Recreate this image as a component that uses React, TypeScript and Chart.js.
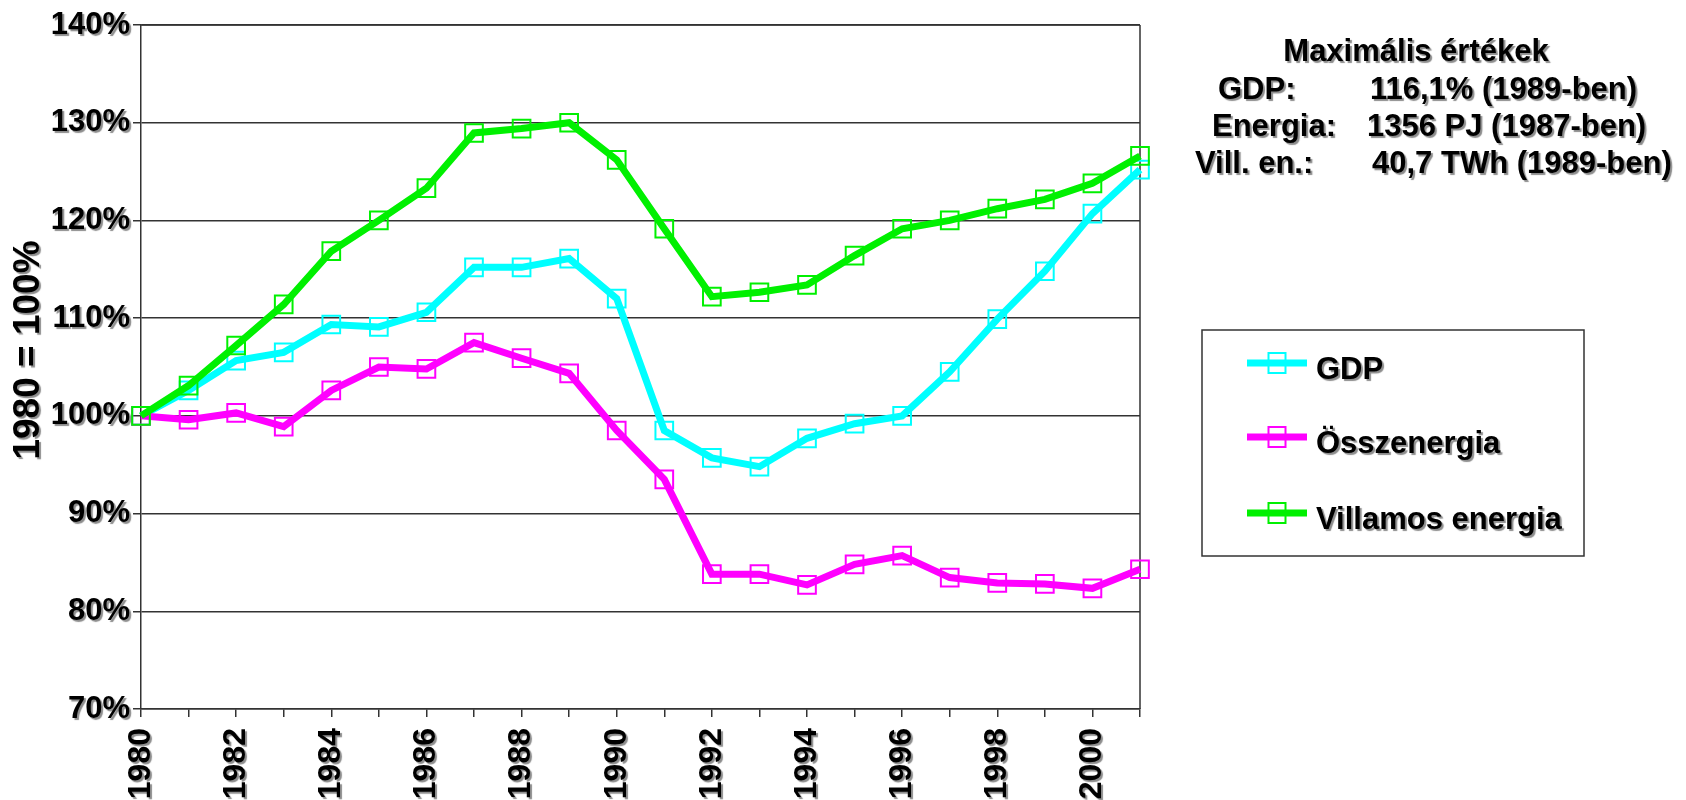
import React, { useEffect, useRef } from 'react';
import { Chart, registerables } from 'chart.js';

Chart.register(...registerables);

// ---------- data ----------
const years = ['1980', '1981', '1982', '1983', '1984', '1985', '1986', '1987', '1988', '1989', '1990',
  '1991', '1992', '1993', '1994', '1995', '1996', '1997', '1998', '1999', '2000', '2001'];

const gdp = [100, 102.6, 105.65, 106.5, 109.35, 109.1, 110.6, 115.2, 115.2, 116.1, 112.0,
  98.5, 95.7, 94.8, 97.7, 99.2, 100.0, 104.5, 109.9, 114.8, 120.7, 125.2];

const osszenergia = [100, 99.6, 100.3, 98.9, 102.6, 105.0, 104.8, 107.5, 105.9, 104.35, 98.5,
  93.5, 83.8, 83.8, 82.7, 84.8, 85.7, 83.45, 82.9, 82.8, 82.35, 84.3];

const villamos = [100, 103.1, 107.2, 111.4, 116.85, 120.0, 123.3, 128.95, 129.4, 130.0, 126.2,
  119.15, 112.2, 112.65, 113.4, 116.4, 119.15, 120.0, 121.2, 122.15, 123.8, 126.6];

const seriesNames = ['GDP', 'Összenergia', 'Villamos energia'];
const seriesColors = ['#00ffff', '#ff00ff', '#00f000'];

const yTitle = '1980 = 100%';
const maxTitle = 'Maximális értékek';
const maxLabels = ['GDP:', 'Energia:', 'Vill. en.:'];
const maxValues = ['116,1% (1989-ben)', '1356 PJ (1987-ben)', '40,7 TWh (1989-ben)'];

// ---------- styling ----------
const FAMILY = '"Liberation Sans", Arial, Helvetica, sans-serif';
const GRID = '#333333';

function withShadow(ctx: CanvasRenderingContext2D, fn: () => void) {
  ctx.save();
  ctx.shadowColor = 'rgba(0,0,0,0.45)';
  ctx.shadowOffsetX = 2;
  ctx.shadowOffsetY = 2;
  ctx.shadowBlur = 1;
  fn();
  ctx.restore();
}

const decorPlugin = {
  id: 'decor',
  beforeDraw(chart: any) {
    Object.values(chart.scales).forEach((scale: any) => {
      if (scale.__shadowPatched) return;
      const orig = scale.drawLabels;
      scale.drawLabels = function (area: any) {
        const c = this.ctx as CanvasRenderingContext2D;
        withShadow(c, () => orig.call(this, area));
      };
      scale.__shadowPatched = true;
    });
  },
  beforeDatasetsDraw(chart: any) {
    const { ctx, chartArea } = chart;
    ctx.save();
    ctx.strokeStyle = GRID;
    ctx.lineWidth = 1.5;
    ctx.beginPath();
    ctx.moveTo(chartArea.right, chartArea.top);
    ctx.lineTo(chartArea.right, chartArea.bottom);
    ctx.moveTo(chartArea.left, chartArea.top);
    ctx.lineTo(chartArea.right, chartArea.top);
    ctx.stroke();
    ctx.restore();
  },
  afterDraw(chart: any) {
    const ctx: CanvasRenderingContext2D = chart.ctx;

    // y-axis title
    withShadow(ctx, () => {
      ctx.translate(29, 350);
      ctx.rotate(-Math.PI / 2);
      ctx.font = `bold 37px ${FAMILY}`;
      ctx.fillStyle = '#000';
      ctx.textAlign = 'center';
      ctx.textBaseline = 'middle';
      ctx.fillText(yTitle, 0, 0);
    });

    // maximum values block
    withShadow(ctx, () => {
      ctx.font = `bold 31px ${FAMILY}`;
      ctx.fillStyle = '#000';
      ctx.textBaseline = 'alphabetic';
      ctx.textAlign = 'center';
      ctx.fillText(maxTitle, 1416, 61);
      ctx.textAlign = 'left';
      const lx = [1218, 1212, 1195];
      const vx = [1370, 1367, 1372];
      const by = [99, 136, 173];
      maxLabels.forEach((l, i) => {
        ctx.fillText(l, lx[i], by[i]);
        ctx.fillText(maxValues[i], vx[i], by[i]);
      });
    });

    // legend
    ctx.save();
    ctx.strokeStyle = GRID;
    ctx.lineWidth = 1.5;
    ctx.strokeRect(1202, 330, 382, 226);
    ctx.restore();
    const ey = [363, 437, 513];
    chart.data.datasets.forEach((ds: any, i: number) => {
      const y = ey[i];
      ctx.save();
      ctx.strokeStyle = ds.borderColor;
      ctx.lineWidth = 7;
      ctx.beginPath();
      ctx.moveTo(1247, y);
      ctx.lineTo(1307, y);
      ctx.stroke();
      ctx.lineWidth = 2;
      ctx.strokeRect(1277 - 8.5, y - 10, 17, 20);
      ctx.restore();
      withShadow(ctx, () => {
        ctx.font = `bold 31px ${FAMILY}`;
        ctx.fillStyle = '#000';
        ctx.textAlign = 'left';
        ctx.textBaseline = 'alphabetic';
        ctx.fillText(ds.label, 1316, y + 16);
      });
    });
  },
};

export default function App() {
  const ref = useRef<HTMLCanvasElement | null>(null);

  useEffect(() => {
    if (!ref.current) return;
    const yTickFont = { family: FAMILY, size: 31, weight: 'bold' as const };
    const xTickFont = { family: FAMILY, size: 32, weight: 'bold' as const };
    const mk = (label: string, data: number[], color: string, order: number) => ({
      label,
      data,
      borderColor: color,
      backgroundColor: color,
      borderWidth: 7,
      tension: 0,
      fill: false,
      pointStyle: 'rect',
      pointRadius: 12.5,
      pointHoverRadius: 12.5,
      pointBorderWidth: 2,
      pointBorderColor: color,
      pointBackgroundColor: 'rgba(0,0,0,0)',
      order,
      clip: false as any,
    });
    const chart = new Chart(ref.current, {
      type: 'line',
      data: {
        labels: years,
        datasets: [
          mk(seriesNames[0], gdp, seriesColors[0], 3),
          mk(seriesNames[1], osszenergia, seriesColors[1], 2),
          mk(seriesNames[2], villamos, seriesColors[2], 1),
        ],
      },
      options: {
        responsive: false,
        animation: false,
        events: [],
        layout: { padding: { left: 0, top: 25, right: 546, bottom: 0 } },
        plugins: { legend: { display: false }, tooltip: { enabled: false } },
        scales: {
          x: {
            type: 'category',
            offset: false,
            grid: { drawOnChartArea: false, drawTicks: true, tickLength: 8, color: GRID, lineWidth: 1.5 },
            border: { color: GRID, width: 1.5 },
            ticks: {
              autoSkip: false,
              maxRotation: 90,
              minRotation: 90,
              padding: 11,
              color: '#000',
              font: xTickFont,
              callback: (_v: any, i: number) => (i % 2 === 0 ? years[i] : ''),
            },
            afterFit: (s: any) => { s.height = 91; },
          },
          y: {
            min: 70,
            max: 140,
            ticks: {
              stepSize: 10,
              color: '#000',
              font: yTickFont,
              padding: 3,
              callback: (v: any) => `${v}%`,
            },
            grid: { color: GRID, lineWidth: 1.5, tickLength: 8 },
            border: { color: GRID, width: 1.5 },
            afterFit: (s: any) => { s.width = 141; },
          },
        },
      } as any,
      plugins: [decorPlugin],
    });
    return () => chart.destroy();
  }, []);

  return (
    <div style={{ position: 'fixed', left: 0, top: 0, width: 1686, height: 800, background: '#fff' }}>
      <canvas ref={ref} width={1686} height={800} style={{ display: 'block', width: 1686, height: 800 }} />
    </div>
  );
}
